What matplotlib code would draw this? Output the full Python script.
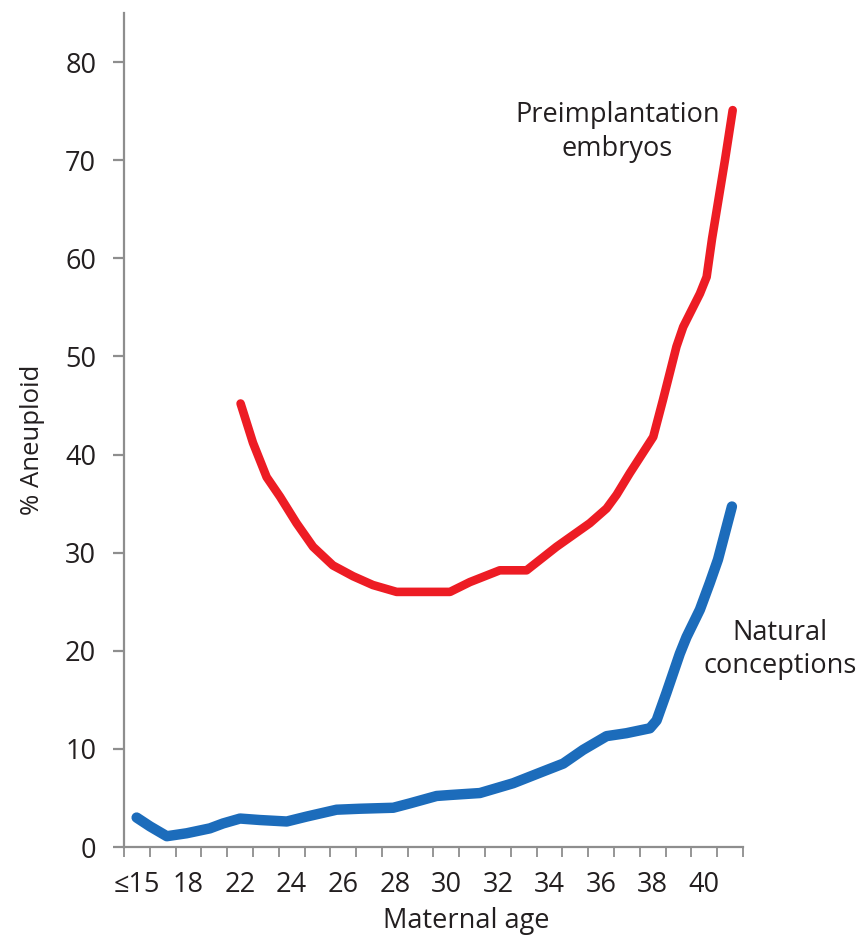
import matplotlib
matplotlib.use("Agg")
import matplotlib.pyplot as plt

plt.rcParams['font.family'] = ['Open Sans', 'DejaVu Sans']

# x is the position on the age axis: one tick per slot, ages label the slot centres
age_labels = ["≤15", "18", "22", "24", "26", "28", "30", "32", "34", "36", "38", "40"]
label_pos = [0.5, 2.5, 4.5, 6.5, 8.5, 10.5, 12.5, 14.5, 16.5, 18.5, 20.5, 22.5]

# Preimplantation embryos (red)
embryo_x = [4.52, 5.0, 5.53, 6.05, 6.69, 7.33, 8.10, 8.88, 9.65, 10.57, 12.64, 13.41,
            14.57, 15.61, 16.77, 18.06, 18.71, 19.10, 19.61, 20.52, 20.90, 21.42,
            21.68, 22.33, 22.59, 22.80, 23.30, 23.60]
embryo_y = [45.2, 41.2, 37.7, 35.7, 33.0, 30.6, 28.7, 27.6, 26.7, 26.0, 26.0, 27.0,
            28.2, 28.2, 30.6, 33.0, 34.5, 35.9, 38.1, 41.8, 45.6, 51.0,
            53.0, 56.4, 58.1, 62.0, 70.0, 75.1]

# Natural conceptions (blue)
natural_x = [0.49, 1.01, 1.66, 2.43, 3.33, 3.84, 4.50, 5.27, 6.31, 7.08, 8.24, 9.15,
             10.44, 11.09, 12.12, 12.64, 13.80, 15.09, 16.25, 17.03, 17.80, 18.71,
             19.48, 20.39, 20.65, 21.03, 21.55, 21.81, 22.33, 22.71, 23.03, 23.57]
natural_y = [3.0, 2.1, 1.1, 1.4, 1.9, 2.4, 2.9, 2.75, 2.6, 3.1, 3.8, 3.9,
             4.0, 4.45, 5.2, 5.3, 5.5, 6.5, 7.7, 8.5, 9.9, 11.3,
             11.6, 12.1, 12.9, 15.7, 19.7, 21.4, 24.2, 26.9, 29.3, 34.7]

text_col = "#231f20"
axis_col = "#8e8e8e"

fig = plt.figure(figsize=(8.62, 9.39), dpi=100)
ax = fig.add_axes([124 / 862, 92 / 939, 619 / 862, 834 / 939])

ax.plot(embryo_x, embryo_y, color="#ed1c24", lw=6.2, solid_capstyle="round",
        solid_joinstyle="round")
ax.plot(natural_x, natural_y, color="#1c6cbb", lw=7.5, solid_capstyle="round",
        solid_joinstyle="round")

ax.set_xlim(0, 24)
ax.set_ylim(0, 85)

for s in ["top", "right"]:
    ax.spines[s].set_visible(False)
for s in ["left", "bottom"]:
    ax.spines[s].set_color(axis_col)
    ax.spines[s].set_linewidth(1.6)

ax.set_yticks(range(0, 81, 10))
ax.tick_params(axis="y", direction="out", length=8, width=1.6, color=axis_col,
               labelsize=19.5, labelcolor=text_col, pad=12)
ax.set_xticks(range(0, 25))
ax.set_xticklabels([])
ax.tick_params(axis="x", direction="out", length=7, width=1.3, color=axis_col)
for p, lab in zip(label_pos, age_labels):
    ax.text(p, -3.9, lab, ha="center", va="center", fontsize=19.5, color=text_col)

fig.text(466 / 862, 1 - 921 / 939, "Maternal age", ha="center", va="center",
         fontsize=19.5, color=text_col)
fig.text(33 / 862, 1 - 440 / 939, "% Aneuploid", ha="center", va="center",
         rotation=90, fontsize=18.5, color=text_col)

ax.text(19.13, 72.9, "Preimplantation\nembryos", ha="center", va="center",
        fontsize=19.5, color=text_col, linespacing=1.3)
ax.text(25.43, 20.1, "Natural\nconceptions", ha="center", va="center",
        fontsize=19.5, color=text_col, linespacing=1.25, clip_on=False)

fig.savefig("out.png", dpi=100, facecolor="white")
